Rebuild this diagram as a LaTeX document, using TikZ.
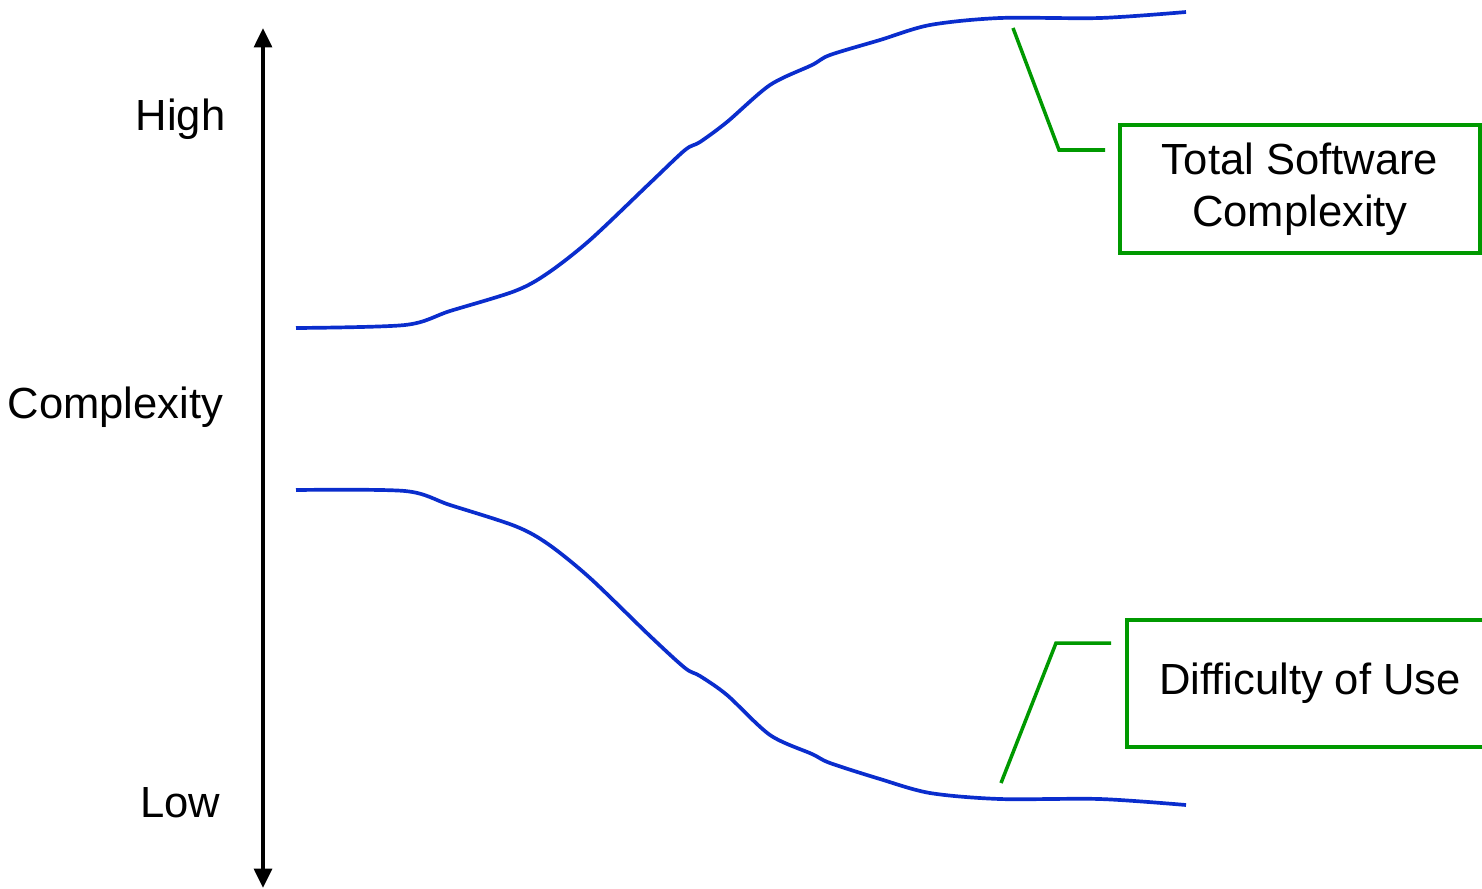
\documentclass[tikz,border=0pt]{standalone}
\usepackage{fontspec}
\setmainfont{Liberation Sans}
\usetikzlibrary{arrows.meta}
\definecolor{curveblue}{RGB}{10,45,205}
\definecolor{calloutgreen}{RGB}{0,153,0}
\begin{document}
\begin{tikzpicture}[label/.style={font=\fontsize{12.4}{14.9}\selectfont,inner sep=0pt},
	box/.style={draw=calloutgreen,line width=1pt,font=\fontsize{12.4}{14.9}\selectfont,align=center,inner sep=0pt},
	curve/.style={draw=curveblue,line width=1.05pt,smooth,tension=0.5},
	callout/.style={draw=calloutgreen,line width=1pt}]

	\useasboundingbox (0,0) rectangle (14.82,8.88);

	% axis with labels
	\coordinate (top) at (2.63,8.60);
	\coordinate (bottom) at (2.63,0);
	\draw[{Triangle[width=5pt,length=5.5pt]}-{Triangle[width=5pt,length=5.5pt]}, line width=1.15pt] (top) -- (bottom);
	\node[label, anchor=east] (high) at (2.26,7.69) {High};
	\node[label, anchor=east] (complexity) at (2.24,4.81) {Complexity};
	\node[label, anchor=east] (low) at (2.21,0.85) {Low};

	% the two curves
	\draw[curve] plot coordinates {(2.96,5.60) (4.05,5.63) (4.50,5.77) (5.15,5.97) (5.48,6.15) (5.90,6.48) (6.50,7.05) (6.85,7.38) (7.00,7.46) (7.27,7.66) (7.70,8.03) (8.12,8.23) (8.30,8.33) (8.80,8.48) (9.30,8.63) (10.00,8.70) (11.00,8.70) (11.86,8.76)};
	\draw[curve] plot coordinates {(2.96,3.98) (4.05,3.97) (4.50,3.83) (5.15,3.62) (5.48,3.44) (5.90,3.10) (6.50,2.52) (6.85,2.20) (7.00,2.12) (7.27,1.93) (7.70,1.53) (8.12,1.34) (8.30,1.25) (8.80,1.09) (9.30,0.95) (10.00,0.89) (11.00,0.89) (11.86,0.83)};

	% callouts
	\node[box, minimum width=3.6cm, minimum height=1.28cm] (total) at (13.00,6.99) {Total Software\\Complexity};
	\node[box, minimum width=3.66cm, minimum height=1.27cm] (difficulty) at (13.10,2.045) {Difficulty of Use};

	\coordinate (totaltip) at (10.13,8.60);
	\coordinate (totalbend) at (10.59,7.38);
	\coordinate (totalend) at (11.05,7.38);
	\draw[callout] (totaltip) -- (totalbend) -- (totalend);

	\coordinate (difftip) at (10.01,1.05);
	\coordinate (diffbend) at (10.56,2.45);
	\coordinate (diffend) at (11.11,2.45);
	\draw[callout] (difftip) -- (diffbend) -- (diffend);

\end{tikzpicture}
\end{document}
